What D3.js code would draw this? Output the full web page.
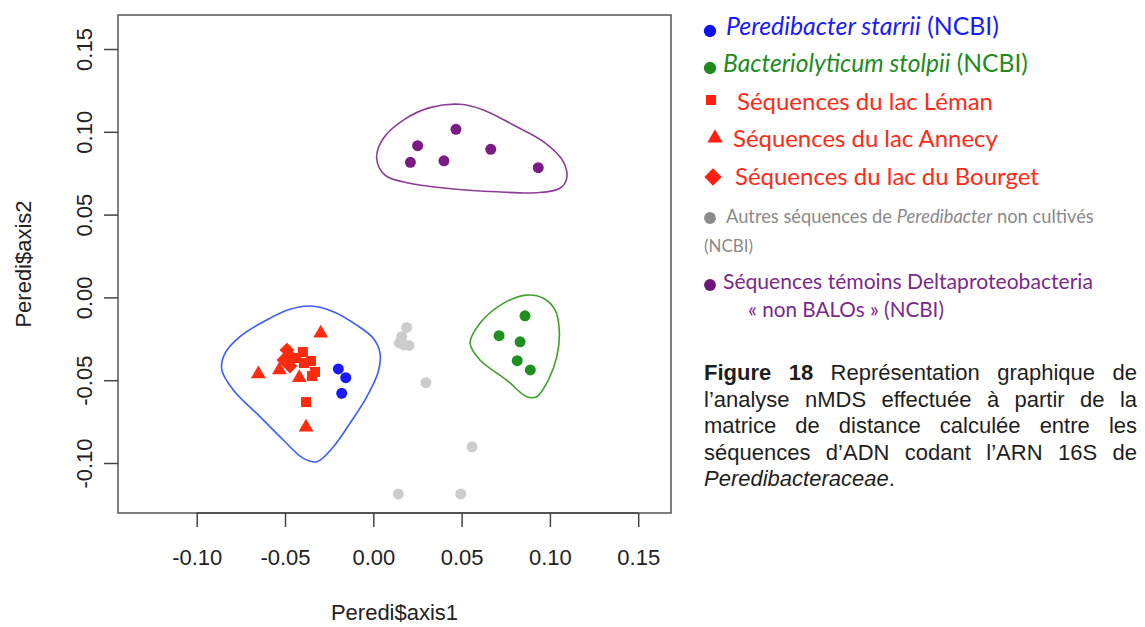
<!DOCTYPE html>
<html>
<head>
<meta charset="utf-8">
<script src="https://cdn.jsdelivr.net/npm/d3@7"></script>
<style>
  html, body { margin: 0; padding: 0; background: #fff; }
  svg { display: block; }
</style>
</head>
<body>
<svg id="chart" width="1145" height="627"></svg>
<script>
// nMDS coordinates (axis1, axis2) per group
const peredibacterStarrii = [[-0.0198, -0.0432], [-0.0156, -0.0485], [-0.0179, -0.0579]];
const bacteriolyticumStolpii = [[0.0859, -0.0111], [0.0712, -0.0231], [0.0831, -0.0268], [0.0815, -0.0382], [0.0889, -0.0438]];
const lacLeman = [[-0.0399, -0.0330], [-0.0438, -0.0366], [-0.0393, -0.0396], [-0.0353, -0.0384], [-0.0330, -0.0450], [-0.0347, -0.0475], [-0.0381, -0.0632]];
const lacAnnecy = [[-0.0298, -0.0217], [-0.0651, -0.0463], [-0.0532, -0.0438], [-0.0419, -0.0485], [-0.0381, -0.0784]];
const lacBourget = [[-0.0489, -0.0318], [-0.0472, -0.0414], [-0.0461, -0.0366], [-0.0506, -0.0378]];
const autresPeredibacter = [[0.0189, -0.0181], [0.0161, -0.0237], [0.0148, -0.0275], [0.0174, -0.0287], [0.0202, -0.0290], [0.0298, -0.0515], [0.0559, -0.0902], [0.0142, -0.1187], [0.0495, -0.1187]];
const deltaTemoins = [[0.0468, 0.1015], [0.0251, 0.0916], [0.0210, 0.0816], [0.0400, 0.0825], [0.0665, 0.0894], [0.0934, 0.0783]];

// Outline contours drawn around the three main groups
const contourBALO = [[-0.0358, -0.0052], [-0.0227, -0.0086], [-0.0094, -0.0167], [0.0000, -0.0247], [0.0038, -0.0338], [0.0028, -0.0449], [-0.0037, -0.0600], [-0.0132, -0.0760], [-0.0226, -0.0902], [-0.0320, -0.0992], [-0.0396, -0.0972], [-0.0510, -0.0861], [-0.0642, -0.0720], [-0.0793, -0.0559], [-0.0858, -0.0438], [-0.0840, -0.0338], [-0.0755, -0.0237], [-0.0604, -0.0136], [-0.0472, -0.0072]];
const contourStolpii = [[0.0548, -0.0277], [0.0604, -0.0156], [0.0736, -0.0036], [0.0869, 0.0014], [0.0963, -0.0005], [0.1029, -0.0076], [0.1053, -0.0197], [0.1039, -0.0358], [0.0991, -0.0499], [0.0925, -0.0600], [0.0869, -0.0600], [0.0755, -0.0499], [0.0604, -0.0378]];
const contourDelta = [[0.0019, 0.0840], [0.0057, 0.0961], [0.0170, 0.1071], [0.0321, 0.1146], [0.0491, 0.1166], [0.0623, 0.1132], [0.0793, 0.1041], [0.0963, 0.0940], [0.1076, 0.0819], [0.1095, 0.0719], [0.1057, 0.0659], [0.0925, 0.0632], [0.0699, 0.0638], [0.0453, 0.0655], [0.0208, 0.0689], [0.0066, 0.0739]];

const xTicks = [-0.10, -0.05, 0.00, 0.05, 0.10, 0.15];
const yTicks = [-0.10, -0.05, 0.00, 0.05, 0.10, 0.15];
const xLabel = "Peredi$axis1";
const yLabel = "Peredi$axis2";

const svg = d3.select("#chart");
const box = { left: 118, right: 671, top: 15, bottom: 513 };

const x = d3.scaleLinear().domain([-0.14457, 0.16857]).range([box.left, box.right]);
const y = d3.scaleLinear().domain([-0.13019, 0.17053]).range([box.bottom, box.top]);

const AXIS_FONT = "'Liberation Sans', Arial, Helvetica, sans-serif";

// Diamond drawn as a square turned by 45 degrees
const symbolRhomb = {
  draw(context, size) {
    const r = Math.sqrt(size / 2);
    context.moveTo(0, -r);
    context.lineTo(r, 0);
    context.lineTo(0, r);
    context.lineTo(-r, 0);
    context.closePath();
  }
};

// Contours
const contourLine = d3.line().x(d => x(d[0])).y(d => y(d[1])).curve(d3.curveCatmullRomClosed.alpha(0.5));
[
  { pts: contourBALO, color: "#3d5cff" },
  { pts: contourStolpii, color: "#3fa02c" },
  { pts: contourDelta, color: "#8c3d96" }
].forEach(c => {
  svg.append("path").attr("d", contourLine(c.pts))
    .attr("fill", "none").attr("stroke", c.color).attr("stroke-width", 1.6);
});

// Points
const groups = [
  { data: autresPeredibacter, type: d3.symbolCircle, size: 95, color: "#cccccc" },
  { data: deltaTemoins, type: d3.symbolCircle, size: 95, color: "#7b1c86" },
  { data: bacteriolyticumStolpii, type: d3.symbolCircle, size: 95, color: "#1f901f" },
  { data: peredibacterStarrii, type: d3.symbolCircle, size: 95, color: "#1a1aff" },
  { data: lacLeman, type: d3.symbolSquare, size: 100, color: "#ff2a10" },
  { data: lacAnnecy, type: d3.symbolTriangle, size: 95, color: "#ff2a10" },
  { data: lacBourget, type: symbolRhomb, size: 110, color: "#ff2a10" }
];
groups.forEach(g => {
  svg.append("g").selectAll("path").data(g.data).join("path")
    .attr("transform", d => `translate(${x(d[0])},${y(d[1])})`)
    .attr("d", d3.symbol().type(g.type).size(g.size))
    .attr("fill", g.color);
});

// Plot frame
svg.append("rect")
  .attr("x", box.left).attr("y", box.top)
  .attr("width", box.right - box.left).attr("height", box.bottom - box.top)
  .attr("fill", "none").attr("stroke", "#555").attr("stroke-width", 1.5);

// Tick labels with a plain hyphen for negatives
const fmt = v => d3.format(".2f")(v).replace("\u2212", "-");

// X axis
const gx = svg.append("g").attr("transform", `translate(0,${box.bottom})`)
  .call(d3.axisBottom(x).tickValues(xTicks).tickFormat(fmt).tickSize(14).tickPadding(22));
gx.select(".domain").remove();
gx.selectAll("line").attr("stroke", "#444").attr("stroke-width", 1.5);
gx.selectAll("text").attr("font-family", AXIS_FONT).attr("font-size", 22).attr("fill", "#222");
svg.append("line").attr("x1", x(xTicks[0])).attr("x2", x(xTicks[xTicks.length - 1]))
  .attr("y1", box.bottom).attr("y2", box.bottom).attr("stroke", "#444").attr("stroke-width", 1.5);

// Y axis with rotated tick labels
const gy = svg.append("g").attr("transform", `translate(${box.left},0)`)
  .call(d3.axisLeft(y).tickValues(yTicks).tickFormat(fmt).tickSize(14));
gy.select(".domain").remove();
gy.selectAll("line").attr("stroke", "#444").attr("stroke-width", 1.5);
gy.selectAll("text")
  .attr("transform", "rotate(-90)")
  .attr("x", 0).attr("y", -26).attr("dy", 0)
  .attr("text-anchor", "middle")
  .attr("font-family", AXIS_FONT).attr("font-size", 22).attr("fill", "#222");

// Axis titles
svg.append("text").attr("x", (box.left + box.right) / 2).attr("y", 620)
  .attr("text-anchor", "middle").attr("font-family", AXIS_FONT).attr("font-size", 22).attr("fill", "#222")
  .text(xLabel);
svg.append("text").attr("transform", `translate(31,${(box.top + box.bottom) / 2}) rotate(-90)`)
  .attr("text-anchor", "middle").attr("font-family", AXIS_FONT).attr("font-size", 22).attr("fill", "#222")
  .text(yLabel);

// Legend
const LEGEND_FONT = "Lato, 'Open Sans', sans-serif";
const legendItems = [
  { sym: d3.symbolCircle, size: 120, color: "#1010f5", mx: 710, my: 31, tx: 726, ty: 35, tw: 273, textColor: "#1a1aff",
    parts: [{ t: "Peredibacter starrii", i: true }, { t: " (NCBI)" }] },
  { sym: d3.symbolCircle, size: 120, color: "#1e8a1e", mx: 710, my: 68, tx: 723, ty: 72, tw: 305, textColor: "#1f8c1f",
    parts: [{ t: "Bacteriolyticum stolpii", i: true }, { t: " (NCBI)" }] },
  { sym: d3.symbolSquare, size: 100, color: "#ff2010", mx: 711, my: 100, tx: 737, ty: 110, tw: 256, textColor: "#ff2a18",
    parts: [{ t: "Séquences du lac Léman" }] },
  { sym: d3.symbolTriangle, size: 100, color: "#ff2010", mx: 715, my: 138, tx: 733, ty: 147, tw: 265, textColor: "#ff2a18",
    parts: [{ t: "Séquences du lac Annecy" }] },
  { sym: symbolRhomb, size: 150, color: "#ff2010", mx: 713, my: 177, tx: 735, ty: 185, tw: 304, textColor: "#ff2a18",
    parts: [{ t: "Séquences du lac du Bourget" }] },
  { sym: d3.symbolCircle, size: 110, color: "#8a8a8a", mx: 710, my: 218, tx: 726, ty: 223, tw: 368, textColor: "#8a8a8a",
    parts: [{ t: "Autres séquences de " }, { t: "Peredibacter", i: true }, { t: " non cultivés" }] },
  { sym: null, tx: 704, ty: 252, tw: 49, textColor: "#8a8a8a", parts: [{ t: "(NCBI)" }] },
  { sym: d3.symbolCircle, size: 110, color: "#6e1578", mx: 710, my: 285, tx: 723, ty: 289, tw: 370, textColor: "#7a2a8a",
    parts: [{ t: "Séquences témoins Deltaproteobacteria" }] },
  { sym: null, tx: 748, ty: 317, tw: 196, textColor: "#7a2a8a", parts: [{ t: "« non BALOs » (NCBI)" }] }
];
const legend = svg.append("g");
legendItems.forEach(it => {
  if (it.sym) {
    legend.append("path").attr("transform", `translate(${it.mx},${it.my})`)
      .attr("d", d3.symbol().type(it.sym).size(it.size)).attr("fill", it.color);
  }
  const base = 20;
  const t = legend.append("text").attr("x", it.tx).attr("y", it.ty)
    .attr("font-family", LEGEND_FONT).attr("font-size", base).attr("fill", it.textColor);
  it.parts.forEach(p => t.append("tspan").attr("font-style", p.i ? "italic" : null).text(p.t));
  const w = t.node().getComputedTextLength();
  if (w > 0) t.attr("font-size", base * it.tw / w);
});

// Caption, justified between two margins
const CAP_FONT = "'Liberation Sans', Arial, Helvetica, sans-serif";
const capLeft = 704, capRight = 1137, capTop = 380, capStep = 26.5, capSize = 22;
const captionLines = [
  [{ t: "Figure", b: true }, { t: "18", b: true }, { t: "Représentation" }, { t: "graphique" }, { t: "de" }],
  [{ t: "l’analyse" }, { t: "nMDS" }, { t: "effectuée" }, { t: "à" }, { t: "partir" }, { t: "de" }, { t: "la" }],
  [{ t: "matrice" }, { t: "de" }, { t: "distance" }, { t: "calculée" }, { t: "entre" }, { t: "les" }],
  [{ t: "séquences" }, { t: "d’ADN" }, { t: "codant" }, { t: "l’ARN" }, { t: "16S" }, { t: "de" }],
  [{ t: "Peredibacteraceae", i: true }, { t: "." , glue: true }]
];
const caption = svg.append("g");
captionLines.forEach((words, li) => {
  const yy = capTop + li * capStep;
  const justify = li < captionLines.length - 1;
  const nodes = words.map(w => caption.append("text")
    .attr("y", yy).attr("font-family", CAP_FONT).attr("font-size", capSize).attr("fill", "#1e1e1e")
    .attr("font-weight", w.b ? "bold" : null).attr("font-style", w.i ? "italic" : null)
    .text(w.t));
  const widths = nodes.map(n => n.node().getComputedTextLength());
  const total = d3.sum(widths);
  const gaps = words.filter((w, i) => i > 0 && !w.glue).length;
  const gap = justify && gaps > 0 ? (capRight - capLeft - total) / gaps : capSize * 0.278;
  let cx = capLeft;
  nodes.forEach((n, i) => {
    if (i > 0 && !words[i].glue) cx += gap;
    n.attr("x", cx);
    cx += widths[i];
  });
});
</script>
</body>
</html>
